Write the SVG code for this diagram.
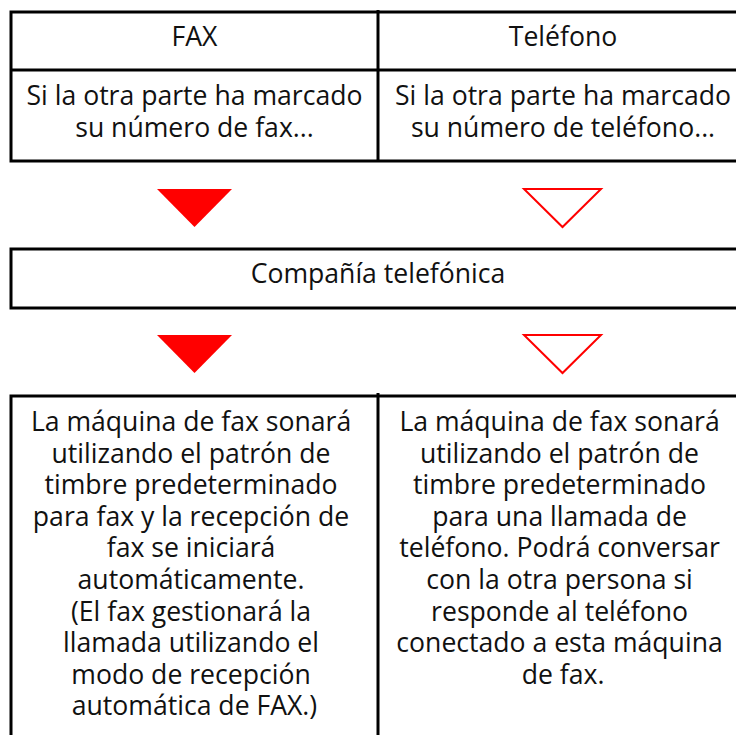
<svg xmlns="http://www.w3.org/2000/svg" width="736" height="735" viewBox="0 0 736 735">
<style>
.box{fill:#fff;stroke:#000;stroke-width:3}
.ln{fill:none;stroke:#000;stroke-width:3}
.t{font-family:"Open Sans","Noto Sans",sans-serif;font-size:26.6px;fill:#111;text-anchor:middle}
.af{fill:#ff0000}
.ao{fill:#fff;stroke:#ff0000;stroke-width:2}
</style>
<rect width="736" height="735" fill="#fff"/>
<g id="top-table">
  <rect class="box" x="11" y="12" width="740" height="149"/>
  <line class="ln" x1="11" y1="70" x2="751" y2="70"/>
  <line class="ln" x1="378" y1="10" x2="378" y2="161"/>
</g>
<g id="fax-header"><text class="t" x="194.5" y="46">FAX</text></g>
<g id="tel-header"><text class="t" x="563" y="46">Teléfono</text></g>
<g id="fax-cond"><text class="t" x="194.5" y="105">Si la otra parte ha marcado</text><text class="t" x="194.5" y="137">su número de fax...</text></g>
<g id="tel-cond"><text class="t" x="563" y="105">Si la otra parte ha marcado</text><text class="t" x="563" y="137">su número de teléfono...</text></g>
<g id="company"><rect class="box" x="11" y="249" width="740" height="59"/><text class="t" x="378" y="283">Compañía telefónica</text></g>
<g id="fax-result">
  <text class="t" x="194.5">
    <tspan x="194.5" y="431">La máquina de fax sonará</tspan>
    <tspan x="194.5" y="462.6">utilizando el patrón de</tspan>
    <tspan x="194.5" y="494.2">timbre predeterminado</tspan>
    <tspan x="194.5" y="525.8">para fax y la recepción de</tspan>
    <tspan x="194.5" y="557.4">fax se iniciará</tspan>
    <tspan x="194.5" y="589">automáticamente.</tspan>
    <tspan x="194.5" y="620.6">(El fax gestionará la</tspan>
    <tspan x="194.5" y="652.2">llamada utilizando el</tspan>
    <tspan x="194.5" y="683.8">modo de recepción</tspan>
    <tspan x="194.5" y="715.4">automática de FAX.)</tspan>
  </text>
</g>
<g id="tel-result">
  <text class="t" x="563">
    <tspan x="563" y="431">La máquina de fax sonará</tspan>
    <tspan x="563" y="462.6">utilizando el patrón de</tspan>
    <tspan x="563" y="494.2">timbre predeterminado</tspan>
    <tspan x="563" y="525.8">para una llamada de</tspan>
    <tspan x="563" y="557.4">teléfono. Podrá conversar</tspan>
    <tspan x="563" y="589">con la otra persona si</tspan>
    <tspan x="563" y="620.6">responde al teléfono</tspan>
    <tspan x="563" y="652.2">conectado a esta máquina</tspan>
    <tspan x="563" y="683.8">de fax.</tspan>
  </text>
</g>
<g id="bottom-frame">
  <polyline class="ln" points="11,740 11,396 751,396"/>
  <line class="ln" x1="378" y1="393" x2="378" y2="740"/>
</g>
<g id="connectors">
  <polygon class="af" points="157,189 232,189 194.5,227"/>
  <polygon class="ao" points="524,189 601,189 562.5,227"/>
  <polygon class="af" points="157,335 232,335 194.5,373"/>
  <polygon class="ao" points="524,335 601,335 562.5,373"/>
</g>
</svg>
